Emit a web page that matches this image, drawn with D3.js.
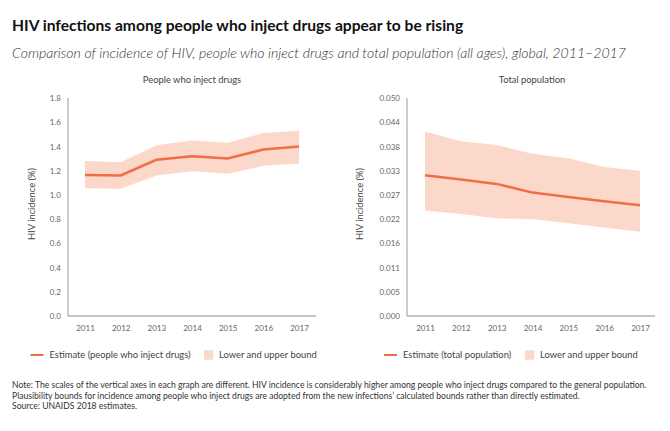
<!DOCTYPE html>
<html>
<head>
<meta charset="utf-8">
<script src="https://cdn.jsdelivr.net/npm/d3@7"></script>
<style>
	body { margin: 0; background: #fff; }
	svg { display: block; font-family: Lato, sans-serif; }
</style>
</head>
<body>
<svg id="chart" width="670" height="431"></svg>
<script>
const years = [2011, 2012, 2013, 2014, 2015, 2016, 2017];

// people who inject drugs (%)
const pwidEstimate = [1.165, 1.16, 1.29, 1.32, 1.30, 1.375, 1.40];
const pwidUpper = [1.28, 1.27, 1.41, 1.45, 1.43, 1.51, 1.53];
const pwidLower = [1.055, 1.05, 1.16, 1.195, 1.175, 1.24, 1.26];
const pwidTicks = [0, 0.2, 0.4, 0.6, 0.8, 1.0, 1.2, 1.4, 1.6, 1.8];
const pwidTickLabels = ['0.0', '0.2', '0.4', '0.6', '0.8', '1.0', '1.2', '1.4', '1.6', '1.8'];

// total population (%)
const totalEstimate = [0.0323, 0.0313, 0.0303, 0.0283, 0.0273, 0.0263, 0.0254];
const totalUpper = [0.0423, 0.0401, 0.0392, 0.0372, 0.0362, 0.0342, 0.0333];
const totalLower = [0.0242, 0.0234, 0.0224, 0.0222, 0.0213, 0.0203, 0.0193];
const totalTicks = [0, 0.05 / 9, 0.1 / 9, 0.15 / 9, 0.2 / 9, 0.25 / 9, 0.3 / 9, 0.35 / 9, 0.4 / 9, 0.05];
const totalTickLabels = ['0.000', '0.005', '0.011', '0.016', '0.022', '0.027', '0.033', '0.038', '0.044', '0.050'];

const lineColor = '#f06e45';
const bandColor = '#fcd8ca';

const svg = d3.select('#chart');

svg.append('text')
	.attr('x', 12).attr('y', 31)
	.style('font-size', '15.6px').style('font-weight', 'bold').attr('fill', '#111')
	.text('HIV infections among people who inject drugs appear to be rising');

svg.append('text')
	.attr('x', 12).attr('y', 58)
	.style('font-size', '14.1px').style('font-style', 'italic').style('font-weight', 300)
	.attr('fill', '#333')
	.text('Comparison of incidence of HIV, people who inject drugs and total population (all ages), global, 2011\u20132017');

function drawPanel(opts) {
	const g = svg.append('g');

	const x = d3.scaleLinear()
		.domain([2011, 2017])
		.range([opts.x0, opts.x1]);
	const y = d3.scaleLinear()
		.domain([0, opts.max])
		.range([316, 98]);

	g.append('text')
		.attr('x', opts.titleX).attr('y', 83)
		.attr('text-anchor', 'middle')
		.style('font-size', '9.4px').attr('fill', '#444')
		.text(opts.title);

	const data = years.map((yr, i) => ({
		year: yr, est: opts.est[i], lo: opts.lo[i], hi: opts.hi[i]
	}));

	const area = d3.area()
		.x(d => x(d.year))
		.y0(d => y(d.lo))
		.y1(d => y(d.hi));
	g.append('path')
		.datum(data)
		.attr('d', area)
		.attr('fill', bandColor);

	const line = d3.line()
		.x(d => x(d.year))
		.y(d => y(d.est));
	g.append('path')
		.datum(data)
		.attr('d', line)
		.attr('fill', 'none')
		.attr('stroke', lineColor)
		.attr('stroke-width', 2.5);

	// axes
	const yAxis = d3.axisLeft(y)
		.tickValues(opts.ticks)
		.tickFormat((d, i) => opts.tickLabels[i])
		.tickSize(0)
		.tickPadding(7);
	const yg = g.append('g')
		.attr('transform', 'translate(' + opts.axisX + ',0)')
		.call(yAxis);

	const xAxis = d3.axisBottom(x)
		.tickValues(years)
		.tickFormat(d3.format('d'))
		.tickSize(0)
		.tickPadding(9);
	const xg = g.append('g')
		.attr('transform', 'translate(0,316)')
		.call(xAxis);

	[yg, xg].forEach(a => {
		a.select('.domain').remove();
		a.selectAll('text')
			.style('font-size', '8px')
			.style('font-family', 'Lato, sans-serif')
			.attr('fill', '#666');
	});

	g.append('line')
		.attr('x1', opts.axisX).attr('x2', opts.axisX)
		.attr('y1', 98).attr('y2', 316)
		.attr('stroke', '#b3b3b3').attr('stroke-width', 1.3);
	g.append('line')
		.attr('x1', opts.axisX).attr('x2', opts.axisEnd)
		.attr('y1', 316).attr('y2', 316)
		.attr('stroke', '#b3b3b3').attr('stroke-width', 1.3);

	g.append('text')
		.attr('transform', 'translate(' + opts.labelX + ',204) rotate(-90)')
		.attr('text-anchor', 'middle')
		.style('font-size', '9.4px').attr('fill', '#444')
		.text('HIV incidence (%)');

	// legend
	const lg = g.append('g').attr('transform', 'translate(' + opts.legendX + ',355)');
	lg.append('line')
		.attr('x1', 0).attr('x2', 13)
		.attr('stroke', lineColor).attr('stroke-width', 2);
	lg.append('text')
		.attr('x', 19).attr('y', 3.3)
		.style('font-size', '9.4px').attr('fill', '#444')
		.text(opts.legendLabel);
	lg.append('rect')
		.attr('x', opts.squareX).attr('y', -4.7)
		.attr('width', 9.4).attr('height', 9.4)
		.attr('fill', bandColor);
	lg.append('text')
		.attr('x', opts.squareX + 15).attr('y', 3.3)
		.style('font-size', '9.4px').attr('fill', '#444')
		.text('Lower and upper bound');
}

drawPanel({
	title: 'People who inject drugs', titleX: 192,
	x0: 85, x1: 299, axisX: 68, axisEnd: 316, labelX: 35,
	max: 1.8, ticks: pwidTicks, tickLabels: pwidTickLabels,
	est: pwidEstimate, lo: pwidLower, hi: pwidUpper,
	legendX: 30.5, legendLabel: 'Estimate (people who inject drugs)', squareX: 173.5
});

drawPanel({
	title: 'Total population', titleX: 532,
	x0: 425, x1: 640, axisX: 407, axisEnd: 655, labelX: 363,
	max: 0.05, ticks: totalTicks, tickLabels: totalTickLabels,
	est: totalEstimate, lo: totalLower, hi: totalUpper,
	legendX: 384, legendLabel: 'Estimate (total population)', squareX: 141
});

const notes = [
	'Note: The scales of the vertical axes in each graph are different. HIV incidence is considerably higher among people who inject drugs compared to the general population.',
	'Plausibility bounds for incidence among people who inject drugs are adopted from the new infections\u2019 calculated bounds rather than directly estimated.',
	'Source: UNAIDS 2018 estimates.'
];
svg.append('g').selectAll('text')
	.data(notes)
	.join('text')
	.attr('x', 12)
	.attr('y', (d, i) => 388 + i * 10.6)
	.style('font-size', '8.6px').attr('fill', '#333')
	.text(d => d);
</script>
</body>
</html>
